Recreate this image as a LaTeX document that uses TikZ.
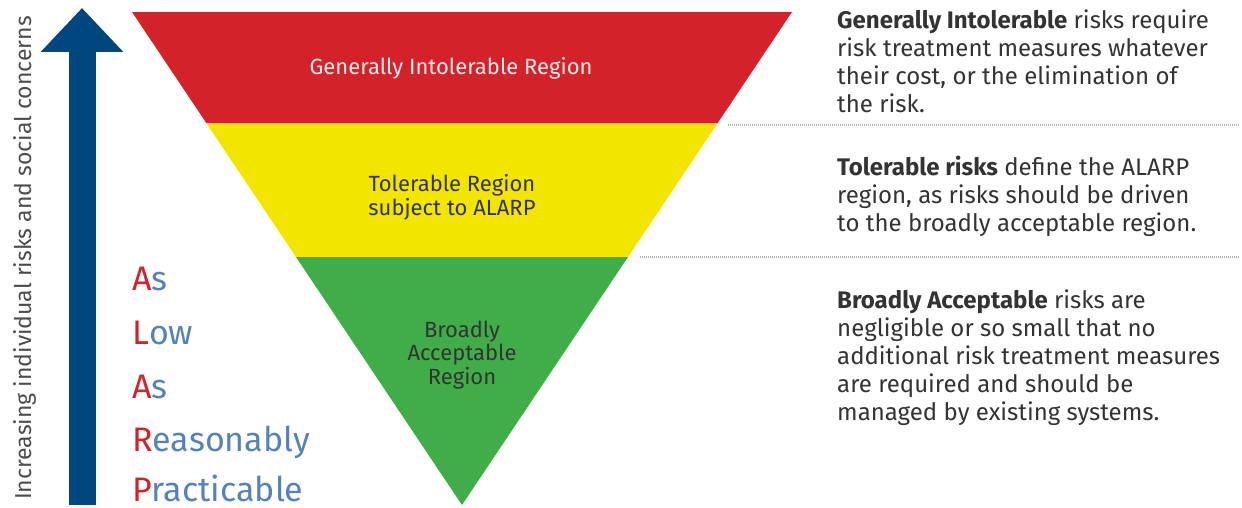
\documentclass[tikz,border=0pt]{standalone}
\usepackage{fontspec}
\setmainfont{Fira Sans}
\usetikzlibrary{arrows.meta}
\usetikzlibrary{positioning}
\definecolor{rouge}{RGB}{210,35,42}
\definecolor{jaune}{RGB}{242,230,0}
\definecolor{vert}{RGB}{65,173,73}
\definecolor{bleufleche}{RGB}{0,70,127}
\definecolor{bleutexte}{RGB}{85,130,185}
\definecolor{couleurpolice}{RGB}{51,51,51}
\newcommand{\alarpline}[2]{{\color{rouge}#1}#2}

\begin{document}
\begin{tikzpicture}[x=1pt, y=-1pt,
				region/.style = {anchor=base, align=center, inner sep=0pt,
					font=\fontsize{22}{23.5}\selectfont, text=couleurpolice},
				desc/.style = {anchor=base west, align=left, inner sep=0pt,
					font=\fontsize{24}{28}\selectfont, text=couleurpolice},
				alarp/.style = {anchor=base west, inner sep=0pt,
					font=\fontsize{34}{34}\selectfont, text=bleutexte},
				separation/.style = {draw=gray!60, line width=2pt, dash pattern=on 1pt off 1pt},
				fleche/.style = {draw=bleufleche, line width=27pt,
					-{Triangle[width=80pt, length=44pt]}}]
				
				\useasboundingbox (0,0) rectangle (1242,508);
				
				% Triangle
				\coordinate (TL) at (132,12);
				\coordinate (TR) at (792,12);
				\coordinate (apex) at (462,505);
				\begin{scope}
					\clip (TL) -- (TR) -- (apex) -- cycle;
					\fill[rouge] (132,12) rectangle (792,123);
					\fill[jaune] (132,123) rectangle (792,257);
					\fill[vert] (132,257) rectangle (792,505);
				\end{scope}
				
				% Region labels (anchored on the last line)
				\node[region, text=white!92!red] (intolerableregion) at (451,75) {Generally Intolerable Region};
				\node[region] (tolerableregion) at (452,215) {Tolerable Region\\subject to ALARP};
				\node[region] (acceptableregion) at (462,384) {Broadly\\Acceptable\\Region};
				
				% Separations
				\coordinate (sep1start) at (728,125);
				\coordinate (sep1end) at (1240,125);
				\coordinate (sep2start) at (640,257);
				\coordinate (sep2end) at (1240,257);
				\draw[separation] (sep1start) -- (sep1end);
				\draw[separation] (sep2start) -- (sep2end);
				
				% Descriptions (anchored on the last line)
				\node[desc] (intolerable) at (837,113) {\textbf{Generally Intolerable} risks require\\risk treatment measures whatever\\their cost, or the elimination of\\the risk.};
				\node[desc] (tolerable) at (837,231) {\textbf{Tolerable risks} define the ALARP\\region, as risks should be driven\\to the broadly acceptable region.};
				\node[desc] (acceptable) at (837,420) {\textbf{Broadly Acceptable} risks are\\negligible or so small that no\\additional risk treatment measures\\are required and should be\\managed by existing systems.};
				
				% Arrow
				\coordinate (arrowbase) at (82,505);
				\coordinate (arrowtip) at (82,8);
				\draw[fleche] (arrowbase) -- (arrowtip);
				\node[rotate=90, font=\fontsize{23}{23}\selectfont, text=black!70] (concerns) at (25,258) {Increasing individual risks and social concerns};
				
				% ALARP
				\node[alarp] (as) at (132,290) {\alarpline{A}{s}};
				\node[alarp] (low) at (132,344) {\alarpline{L}{ow}};
				\node[alarp] (as2) at (132,398) {\alarpline{A}{s}};
				\node[alarp] (reasonably) at (132,451) {\alarpline{R}{easonably}};
				\node[alarp] (practicable) at (132,501) {\alarpline{P}{racticable}};
				
			\end{tikzpicture}
\end{document}
